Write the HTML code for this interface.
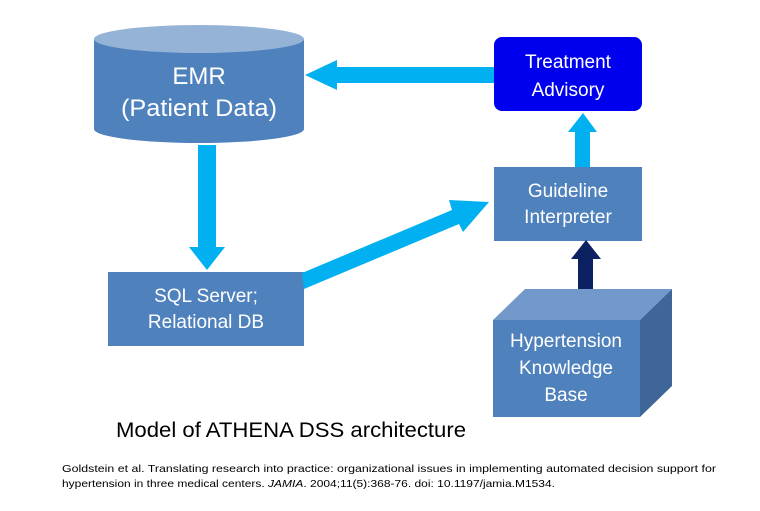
<!DOCTYPE html>
<html><head><meta charset="utf-8"><style>
html,body{margin:0;padding:0;background:#fff;}
svg{display:block;}
text{font-family:"Liberation Sans",sans-serif;}
</style></head><body>
<svg width="760" height="511" viewBox="0 0 760 511" xmlns="http://www.w3.org/2000/svg">
<path d="M94,39 L94,129 A105,14 0 0 0 304,129 L304,39 Z" fill="#4f81bd"/>
<ellipse cx="199" cy="39" rx="105" ry="14" fill="#95b3d7"/>
<text x="199" y="84" font-size="24" fill="#fff" text-anchor="middle">EMR</text>
<text x="199" y="116" font-size="24" fill="#fff" text-anchor="middle" textLength="156" lengthAdjust="spacingAndGlyphs">(Patient Data)</text>

<rect x="494" y="37" width="148" height="74" rx="8" fill="#0000ee"/>
<text x="568" y="68" font-size="19" fill="#fff" text-anchor="middle">Treatment</text>
<text x="568" y="96" font-size="19" fill="#fff" text-anchor="middle">Advisory</text>

<polygon points="494,67 337,67 337,60 305,75 337,90 337,83 494,83" fill="#00b0f0"/>
<polygon points="575,167 575,132 568,132 583,113 597,132 590,132 590,167" fill="#00b0f0"/>

<rect x="494" y="167" width="148" height="74" fill="#4f81bd"/>
<text x="568" y="197" font-size="19" fill="#fff" text-anchor="middle">Guideline</text>
<text x="568" y="223" font-size="19" fill="#fff" text-anchor="middle">Interpreter</text>

<polygon points="198,145 216,145 216,247 225,247 207,270 189,247 198,247" fill="#00b0f0"/>

<rect x="108" y="272" width="196" height="74" fill="#4f81bd"/>
<text x="206" y="302" font-size="19" fill="#fff" text-anchor="middle">SQL Server;</text>
<text x="206" y="328" font-size="19" fill="#fff" text-anchor="middle">Relational DB</text>

<polygon points="302,273 452,210 449,200 489,202 463,232 459,224 304,289" fill="#00b0f0"/>

<polygon points="578,307 593,307 593,259 601,259 586,240 571,259 578,259" fill="#0b2161"/>

<polygon points="493,320 525,289 672,289 640,320" fill="#7399cb"/>
<polygon points="640,320 672,289 672,386 640,417" fill="#3f6699"/>
<rect x="493" y="320" width="147" height="97" fill="#4f81bd"/>
<text x="566" y="347" font-size="19" fill="#fff" text-anchor="middle">Hypertension</text>
<text x="566" y="374" font-size="19" fill="#fff" text-anchor="middle">Knowledge</text>
<text x="566" y="401" font-size="19" fill="#fff" text-anchor="middle">Base</text>

<text x="116" y="437" font-size="21" fill="#000" textLength="350" lengthAdjust="spacingAndGlyphs">Model of ATHENA DSS architecture</text>
<text x="62" y="472" font-size="10.5" fill="#000" textLength="654" lengthAdjust="spacingAndGlyphs">Goldstein et al. Translating research into practice: organizational issues in implementing automated decision support for</text>
<text x="62" y="487" font-size="10.5" fill="#000" textLength="493" lengthAdjust="spacingAndGlyphs">hypertension in three medical centers. <tspan font-style="italic">JAMIA</tspan>. 2004;11(5):368-76. doi: 10.1197/jamia.M1534.</text>
</svg>
</body></html>
